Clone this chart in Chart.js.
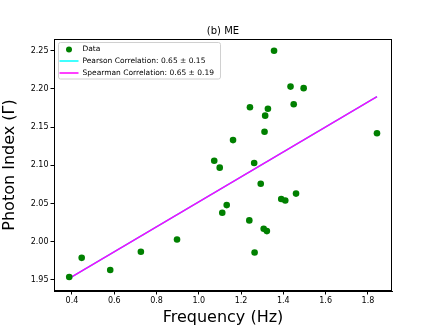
<!DOCTYPE html>
<html>
<head>
<meta charset="utf-8">
<script src="https://cdn.jsdelivr.net/npm/chart.js@4/dist/chart.umd.min.js"></script>
<style>
  html, body { margin: 0; padding: 0; background: #fff; }
  #wrap { width: 436px; height: 327px; }
</style>
</head>
<body>
<div id="wrap"><canvas id="myChart" width="436" height="327"></canvas></div>
<script>
// frequency (Hz) and photon index for each observation
var freq = [0.387, 0.446, 0.581, 0.726, 0.897, 1.073, 1.099, 1.111, 1.132, 1.162,
            1.239, 1.242, 1.262, 1.264, 1.293, 1.307, 1.311, 1.314, 1.322, 1.327,
            1.356, 1.390, 1.409, 1.434, 1.449, 1.460, 1.496, 1.843];
var gamma = [1.954, 1.979, 1.963, 1.987, 2.003, 2.106, 2.097, 2.038, 2.048, 2.133,
             2.028, 2.176, 2.103, 1.986, 2.076, 2.017, 2.144, 2.165, 2.014, 2.174,
             2.250, 2.056, 2.054, 2.203, 2.180, 2.063, 2.201, 2.142];
// fitted line end points
var fitX = [0.387, 1.843];
var fitY = [1.952, 2.190];
var xTicks = [0.4, 0.6, 0.8, 1.0, 1.2, 1.4, 1.6, 1.8];
var yTicks = [1.95, 2.00, 2.05, 2.10, 2.15, 2.20, 2.25];
var labels = ['Data', 'Pearson Correlation: 0.65 \u00b1 0.15', 'Spearman Correlation: 0.65 \u00b1 0.19'];

var FONT = "'DejaVu Sans', sans-serif";

var framePlugin = {
  id: 'frame',
  afterDraw: function(chart) {
    var ctx = chart.ctx, a = chart.chartArea;
    ctx.save();
    ctx.strokeStyle = '#000';
    ctx.lineWidth = 1;
    ctx.strokeRect(a.left + 0.5, a.top + 0.5, a.right - a.left - 1, a.bottom - a.top - 1);
    // title
    ctx.fillStyle = '#000';
    ctx.font = '10px ' + FONT;
    ctx.textAlign = 'center';
    ctx.textBaseline = 'alphabetic';
    ctx.fillText('(b) ME', (a.left + a.right) / 2, 34);
    // legend box
    var lx = 58.5, ly = 42.5, lw = 162, lh = 36.5;
    ctx.fillStyle = 'rgba(255,255,255,0.8)';
    ctx.strokeStyle = '#d0d0d0';
    ctx.beginPath();
    ctx.roundRect(lx, ly, lw, lh, 2);
    ctx.fill();
    ctx.stroke();
    ctx.font = '7.5px ' + FONT;
    ctx.textAlign = 'left';
    ctx.textBaseline = 'middle';
    ctx.fillStyle = '#008000';
    ctx.beginPath();
    ctx.arc(69, 49.5, 3, 0, Math.PI * 2);
    ctx.fill();
    ctx.lineWidth = 1.5;
    ctx.strokeStyle = '#00ffff';
    ctx.beginPath(); ctx.moveTo(59.5, 61); ctx.lineTo(78.5, 61); ctx.stroke();
    ctx.strokeStyle = '#ff00ff';
    ctx.beginPath(); ctx.moveTo(59.5, 73); ctx.lineTo(78.5, 73); ctx.stroke();
    ctx.fillStyle = '#000';
    ctx.fillText(labels[0], 82.5, 49.5);
    ctx.fillText(labels[1], 82.5, 61);
    ctx.fillText(labels[2], 82.5, 73);
    ctx.restore();
  }
};

var ctx = document.getElementById('myChart');
var myChart = new Chart(ctx, {
  type: 'scatter',
  data: {
    datasets: [{
      label: labels[0],
      data: freq.map(function(f, i) { return { x: f, y: gamma[i] }; }),
      backgroundColor: '#008000',
      borderWidth: 0,
      pointRadius: 3.3,
      order: 1
    }, {
      label: labels[1],
      type: 'line',
      data: fitX.map(function(f, i) { return { x: f, y: fitY[i] }; }),
      borderColor: '#00ffff',
      borderWidth: 1.5,
      pointRadius: 0,
      order: 3
    }, {
      label: labels[2],
      type: 'line',
      data: fitX.map(function(f, i) { return { x: f, y: fitY[i] }; }),
      borderColor: '#ff00ff',
      borderWidth: 1.5,
      pointRadius: 0,
      order: 2
    }]
  },
  options: {
    responsive: false,
    animation: false,
    layout: { padding: { top: 39, right: 44, left: 0, bottom: 0 } },
    plugins: { legend: { display: false }, tooltip: { enabled: false } },
    scales: {
      x: {
        type: 'linear',
        min: 0.315,
        max: 1.914,
        afterBuildTicks: function(s) { s.ticks = xTicks.map(function(v) { return { value: v }; }); },
        afterFit: function(s) { s.height = 36; },
        grid: { drawOnChartArea: false, drawTicks: true, tickLength: 3.5, color: '#000' },
        border: { display: true, color: '#000' },
        ticks: {
          color: '#000', font: { family: FONT, size: 8 }, padding: 2, maxRotation: 0,
          callback: function(v) { return v.toFixed(1); }
        },
        title: { display: true, text: 'Frequency (Hz)', color: '#000', font: { family: FONT, size: 16 }, padding: { top: 0, bottom: 0 } }
      },
      y: {
        type: 'linear',
        min: 1.9356,
        max: 2.2653,
        afterBuildTicks: function(s) { s.ticks = yTicks.map(function(v) { return { value: v }; }); },
        afterFit: function(s) { s.width = 54; },
        grid: { drawOnChartArea: false, drawTicks: true, tickLength: 3.5, color: '#000' },
        border: { display: true, color: '#000' },
        ticks: {
          color: '#000', font: { family: FONT, size: 8 }, padding: 2,
          callback: function(v) { return v.toFixed(2); }
        },
        title: { display: true, text: 'Photon Index (\u0393)', color: '#000', font: { family: FONT, size: 16 }, padding: { top: 0, bottom: 2 } }
      }
    }
  },
  plugins: [framePlugin]
});
</script>
</body>
</html>
